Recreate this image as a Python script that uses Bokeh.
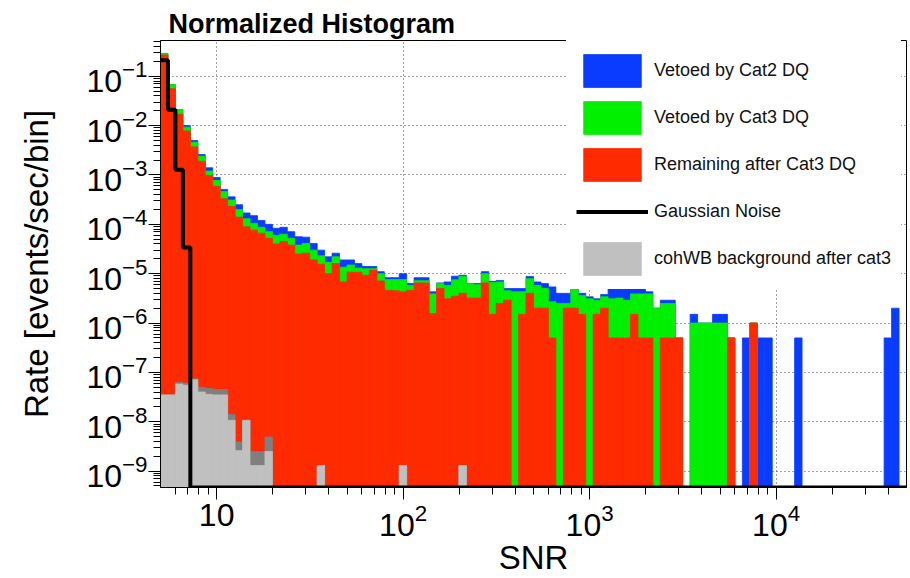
import numpy as np
from bokeh.plotting import figure
from bokeh.models import (Range1d, FixedTicker, LogTickFormatter, Legend, LegendItem,
                          ColumnDataSource)
from bokeh.embed import file_html
from bokeh.resources import INLINE

# ---------------- data ----------------
SNR_MIN = 5.0
SNR_MAX = 5.0e4
N_BINS = 100          # log-spaced bins, 25 per decade

# total rate (top of stack, "Vetoed by Cat2 DQ")
vetoed_cat2 = [
    2.9e-1, 6.8e-2, 2.1e-2, 1.0e-2, 5.0e-3, 2.6e-3, 1.4e-3, 8.9e-4, 5.1e-4, 3.6e-4,
    2.5e-4, 1.7e-4, 1.5e-4, 1.2e-4, 1.0e-4, 8.3e-5, 8.7e-5, 7.1e-5, 5.6e-5, 5.5e-5,
    4.1e-5, 3.0e-5, 2.2e-5, 2.6e-5, 1.9e-5, 1.9e-5, 1.6e-5, 1.4e-5, 1.4e-5, 1.1e-5,
    8.3e-6, 8.3e-6, 1.0e-5, 6.3e-6, 8.3e-6, 8.3e-6, 4.3e-6, 6.5e-6, 6.8e-6, 8.9e-6,
    9.3e-6, 6.3e-6, 6.3e-6, 1.1e-5, 7.0e-6, 7.3e-6, 5.0e-6, 5.0e-6, 5.0e-6, 8.8e-6,
    6.8e-6, 6.3e-6, 5.4e-6, 4.0e-6, 4.0e-6, 6.0e-6, 4.0e-6, 3.4e-6, 3.1e-6, 3.8e-6,
    5.0e-6, 5.4e-6, 5.4e-6, 5.4e-6, 5.4e-6, 4.3e-6, 2.0e-6, 2.9e-6, 2.9e-6, 5.0e-7,
    0, 1.5e-6, 1.0e-6, 1.0e-6, 1.5e-6, 1.5e-6, 5.0e-7, 0, 5.0e-7, 1.0e-6,
    5.0e-7, 5.0e-7, 0, 0, 0, 5.0e-7, 0, 0, 0, 0,
    0, 0, 0, 0, 0, 0, 0, 5.0e-7, 2.0e-6, 0,
]
# "Vetoed by Cat3 DQ" (remaining + cat3-vetoed)
vetoed_cat3 = [
    2.9e-1, 6.8e-2, 2.1e-2, 9.3e-3, 4.6e-3, 2.4e-3, 1.2e-3, 7.8e-4, 4.6e-4, 3.1e-4,
    2.0e-4, 1.3e-4, 1.05e-4, 8.7e-5, 7.1e-5, 6.0e-5, 6.3e-5, 5.2e-5, 3.8e-5, 4.1e-5,
    3.0e-5, 2.3e-5, 1.7e-5, 2.2e-5, 1.35e-5, 1.5e-5, 1.3e-5, 1.26e-5, 1.26e-5, 1.0e-5,
    7.6e-6, 7.6e-6, 7.6e-6, 5.8e-6, 7.2e-6, 7.2e-6, 3.9e-6, 6.3e-6, 5.8e-6, 7.5e-6,
    8.8e-6, 6.3e-6, 6.0e-6, 1.0e-5, 6.6e-6, 6.8e-6, 4.5e-6, 4.3e-6, 4.3e-6, 7.9e-6,
    5.8e-6, 5.0e-6, 2.7e-6, 2.5e-6, 2.5e-6, 5.0e-6, 3.6e-6, 3.1e-6, 2.9e-6, 3.4e-6,
    3.1e-6, 3.2e-6, 2.9e-6, 3.9e-6, 3.9e-6, 3.9e-6, 2.0e-6, 2.5e-6, 2.5e-6, 5.0e-7,
    0, 1.0e-6, 1.0e-6, 1.0e-6, 1.0e-6, 1.0e-6, 5.0e-7, 0, 0, 1.0e-6,
    0, 0, 0, 0, 0, 0, 0, 0, 0, 0,
    0, 0, 0, 0, 0, 0, 0, 0, 0, 0,
]
# "Remaining after Cat3 DQ"
remaining_cat3 = [
    2.7e-1, 5.6e-2, 1.7e-2, 7.8e-3, 3.7e-3, 1.9e-3, 9.8e-4, 5.9e-4, 3.3e-4, 2.3e-4,
    1.4e-4, 8.9e-5, 7.6e-5, 6.6e-5, 5.2e-5, 4.0e-5, 4.5e-5, 3.8e-5, 2.5e-5, 2.6e-5,
    1.9e-5, 1.55e-5, 1.0e-5, 1.6e-5, 6.8e-6, 1.07e-5, 1.07e-5, 9.3e-6, 1.17e-5, 7.1e-6,
    4.6e-6, 4.5e-6, 4.3e-6, 4.6e-6, 6.5e-6, 6.5e-6, 1.55e-6, 5.0e-6, 3.1e-6, 3.5e-6,
    4.0e-6, 3.2e-6, 3.2e-6, 6.5e-6, 1.5e-6, 2.5e-6, 2.9e-6, 0, 1.5e-6, 4.0e-6,
    2.0e-6, 2.0e-6, 5.0e-7, 0, 2.0e-6, 2.0e-6, 1.5e-6, 0, 1.5e-6, 2.0e-6,
    5.0e-7, 5.0e-7, 5.0e-7, 1.5e-6, 5.0e-7, 5.0e-7, 0, 5.0e-7, 5.0e-7, 5.0e-7,
    0, 0, 0, 0, 0, 0, 5.0e-7, 0, 0, 1.0e-6,
    0, 0, 0, 0, 0, 0, 0, 0, 0, 0,
    0, 0, 0, 0, 0, 0, 0, 0, 0, 0,
]
# "Gaussian Noise"
gaussian_noise = [
    2.1e-1, 2.1e-2, 1.27e-3, 3.4e-5, 0, 0, 0, 0, 0, 0,
    0, 0, 0, 0, 0, 0, 0, 0, 0, 0,
    0, 0, 0, 0, 0, 0, 0, 0, 0, 0,
    0, 0, 0, 0, 0, 0, 0, 0, 0, 0,
    0, 0, 0, 0, 0, 0, 0, 0, 0, 0,
    0, 0, 0, 0, 0, 0, 0, 0, 0, 0,
    0, 0, 0, 0, 0, 0, 0, 0, 0, 0,
    0, 0, 0, 0, 0, 0, 0, 0, 0, 0,
    0, 0, 0, 0, 0, 0, 0, 0, 0, 0,
    0, 0, 0, 0, 0, 0, 0, 0, 0, 0,
]
# "cohWB background after cat3" (light grey)
cohwb_after_cat3 = [
    3.5e-8, 3.5e-8, 5.8e-8, 5.5e-8, 7.1e-8, 4.0e-8, 3.6e-8, 3.5e-8, 3.5e-8, 1.07e-8,
    2.6e-9, 1.07e-8, 1.3e-9, 1.3e-9, 2.5e-9, 0, 0, 0, 0, 0,
    0, 1.3e-9, 0, 0, 0, 0, 0, 0, 0, 0,
    0, 0, 1.3e-9, 0, 0, 0, 0, 0, 0, 0,
    1.3e-9, 0, 0, 0, 0, 0, 0, 0, 0, 0,
    0, 0, 0, 0, 0, 0, 0, 0, 0, 0,
    0, 0, 0, 0, 0, 0, 0, 0, 0, 0,
    0, 0, 0, 0, 0, 0, 0, 0, 0, 0,
    0, 0, 0, 0, 0, 0, 0, 0, 0, 0,
    0, 0, 0, 0, 0, 0, 0, 0, 0, 0,
]
# cohWB background (dark grey, not in legend)
cohwb_total = [
    3.5e-8, 3.5e-8, 6.3e-8, 6.0e-8, 7.4e-8, 5.0e-8, 4.7e-8, 4.5e-8, 4.5e-8, 1.4e-8,
    3.9e-9, 1.07e-8, 2.5e-9, 2.5e-9, 4.9e-9, 0, 0, 0, 0, 0,
    0, 1.3e-9, 0, 0, 0, 0, 0, 0, 0, 0,
    0, 0, 1.3e-9, 0, 0, 0, 0, 0, 0, 0,
    1.3e-9, 0, 0, 0, 0, 0, 0, 0, 0, 0,
    0, 0, 0, 0, 0, 0, 0, 0, 0, 0,
    0, 0, 0, 0, 0, 0, 0, 0, 0, 0,
    0, 0, 0, 0, 0, 0, 0, 0, 0, 0,
    0, 0, 0, 0, 0, 0, 0, 0, 0, 0,
    0, 0, 0, 0, 0, 0, 0, 0, 0, 0,
]

x_major_ticks = [10, 100, 1000, 10000]
y_major_ticks = [1e-9, 1e-8, 1e-7, 1e-6, 1e-5, 1e-4, 1e-3, 1e-2, 1e-1]

# ---------------- layout / style ----------------
YMIN, YMAX = 4.66e-10, 0.53
FONT = "Liberation Sans"
C_BLUE, C_GREEN, C_RED = "#0a3cff", "#00f000", "#ff2a00"
C_LGRAY, C_DGRAY = "#c0c0c0", "#7f7f7f"

edges = np.logspace(np.log10(SNR_MIN), np.log10(SNR_MAX), N_BINS + 1)
lo, hi = edges[:-1], edges[1:]

p = figure(width=910, height=578, output_backend="svg", toolbar_location=None,
           x_axis_type="log", y_axis_type="log",
           x_range=Range1d(SNR_MIN, SNR_MAX), y_range=Range1d(YMIN, YMAX),
           min_border_left=160, min_border_right=4, min_border_top=40,
           min_border_bottom=91, background_fill_color="white",
           border_fill_color="white")

p.title.text = "Normalized Histogram"
p.title.text_font = FONT
p.title.text_font_size = "27px"
p.title.text_font_style = "bold"
p.title.text_color = "black"
p.title.align = "left"
p.title.offset = 8
p.title.standoff = 3


def bars(vals, color):
    v = np.asarray(vals, dtype=float)
    m = v > 0
    src = ColumnDataSource(dict(left=lo[m], right=hi[m], top=v[m]))
    return p.quad(left="left", right="right", top="top", bottom=YMIN, source=src,
                  fill_color=color, line_color=color, line_width=0.8)


r_blue = bars(vetoed_cat2, C_BLUE)
r_green = bars(vetoed_cat3, C_GREEN)
r_red = bars(remaining_cat3, C_RED)
r_dgray = bars(cohwb_total, C_DGRAY)
r_lgray = bars(cohwb_after_cat3, C_LGRAY)

g = np.asarray(gaussian_noise, dtype=float)
g_draw = np.where(g > 0, g, YMIN)
r_gauss = p.step(x=np.append(lo, hi[-1]), y=np.append(g_draw, g_draw[-1]),
                 mode="after", line_color="black", line_width=4)

# axes
for ax in (p.xaxis[0], p.yaxis[0]):
    ax.axis_line_color = "black"
    ax.axis_line_width = 1
    ax.major_tick_in = 0
    ax.minor_tick_in = 0
    ax.major_tick_out = 12
    ax.minor_tick_out = 7
    ax.major_tick_line_color = "black"
    ax.minor_tick_line_color = "black"
    ax.major_label_text_font = FONT
    ax.major_label_text_font_size = "32px"
    ax.major_label_text_color = "black"
    ax.axis_label_text_font = FONT
    ax.axis_label_text_font_size = "33px"
    ax.axis_label_text_font_style = "normal"
    ax.axis_label_text_color = "black"

x_minor = [m * 10 ** e for e in range(0, 5) for m in range(2, 10)
           if SNR_MIN < m * 10 ** e < SNR_MAX]
y_minor = [m * 10 ** e for e in range(-10, 0) for m in range(2, 10)
           if YMIN < m * 10 ** e < YMAX]
p.xaxis.ticker = FixedTicker(ticks=x_major_ticks, minor_ticks=x_minor)
p.yaxis.ticker = FixedTicker(ticks=y_major_ticks, minor_ticks=y_minor)
p.xaxis.formatter = LogTickFormatter(min_exponent=2)
p.yaxis.formatter = LogTickFormatter()
p.xaxis.axis_label = "SNR"
p.yaxis.axis_label = "Rate [events/sec/bin]"
p.xaxis.major_label_standoff = 4
p.yaxis.major_label_standoff = 1
p.xaxis.axis_label_standoff = 0
p.yaxis.axis_label_standoff = 28

for grid in (p.xgrid[0], p.ygrid[0]):
    grid.grid_line_color = "#444444"
    grid.grid_line_dash = "1 3"
    grid.grid_line_width = 1
    grid.minor_grid_line_color = None
p.xgrid.ticker = FixedTicker(ticks=x_major_ticks)
p.ygrid.ticker = FixedTicker(ticks=y_major_ticks)

p.outline_line_color = "black"
p.outline_line_width = 1

legend = Legend(items=[
    LegendItem(label="Vetoed by Cat2 DQ", renderers=[r_blue]),
    LegendItem(label="Vetoed by Cat3 DQ", renderers=[r_green]),
    LegendItem(label="Remaining after Cat3 DQ", renderers=[r_red]),
    LegendItem(label="Gaussian Noise", renderers=[r_gauss]),
    LegendItem(label="cohWB background after cat3", renderers=[r_lgray]),
], location=(406, 198), margin=0, padding=10, spacing=6, glyph_width=72,
    glyph_height=41, label_height=41, label_standoff=6,
    label_text_font=FONT, label_text_font_size="18px", label_text_color="#111111",
    border_line_alpha=0, background_fill_color="white", background_fill_alpha=1)
p.add_layout(legend)

open("out.html", "w").write(file_html(p, INLINE))
